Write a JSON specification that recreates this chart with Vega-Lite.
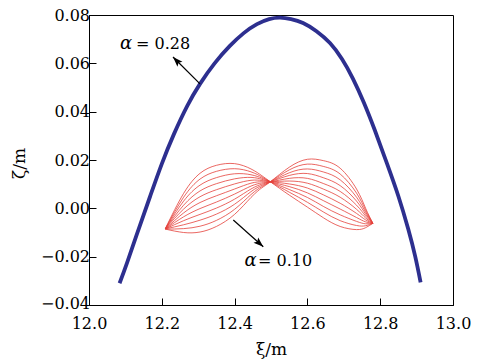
{
  "$schema": "https://vega.github.io/schema/vega-lite/v6.json",
  "width": 364,
  "height": 290,
  "autosize": {"type": "none"},
  "padding": {"left": 89, "top": 15, "right": 33, "bottom": 55},
  "background": "white",
  "config": {
    "view": {"stroke": "black", "strokeWidth": 1},
    "axis": {
      "grid": false,
      "domainColor": "black",
      "tickColor": "black",
      "labelColor": "black",
      "titleColor": "black",
      "labelFont": "DejaVu Serif",
      "titleFont": "DejaVu Serif",
      "labelFontSize": 16,
      "titleFontSize": 17,
      "titleFontWeight": "normal",
      "tickSize": -7,
      "labelFlush": false,
      "labelOverlap": false
    },
    "axisX": {"labelPadding": 17.5},
    "axisY": {"labelPadding": 6.5}
  },
  "datasets": {
    "red": [
      {"c":0,"x":12.21,"y":-0.0083},{"c":0,"x":12.26,"y":0.0062},{"c":0,"x":12.305,"y":0.0145},{"c":0,"x":12.35,"y":0.0178},{"c":0,"x":12.40,"y":0.0185},{"c":0,"x":12.445,"y":0.0163},{"c":0,"x":12.475,"y":0.0135},{"c":0,"x":12.50,"y":0.0108},{"c":0,"x":12.55,"y":0.0055},{"c":0,"x":12.60,"y":0.0005},{"c":0,"x":12.645,"y":-0.0040},{"c":0,"x":12.69,"y":-0.0075},{"c":0,"x":12.735,"y":-0.0088},{"c":0,"x":12.76,"y":-0.0080},{"c":0,"x":12.78,"y":-0.0062},
      {"c":1,"x":12.21,"y":-0.0083},{"c":1,"x":12.26,"y":0.0046},{"c":1,"x":12.305,"y":0.0121},{"c":1,"x":12.35,"y":0.0153},{"c":1,"x":12.40,"y":0.0164},{"c":1,"x":12.445,"y":0.0151},{"c":1,"x":12.475,"y":0.0130},{"c":1,"x":12.50,"y":0.0108},{"c":1,"x":12.55,"y":0.0067},{"c":1,"x":12.60,"y":0.0025},{"c":1,"x":12.645,"y":-0.0016},{"c":1,"x":12.69,"y":-0.0051},{"c":1,"x":12.735,"y":-0.0071},{"c":1,"x":12.76,"y":-0.0072},{"c":1,"x":12.78,"y":-0.0062},
      {"c":2,"x":12.21,"y":-0.0084},{"c":2,"x":12.26,"y":0.0030},{"c":2,"x":12.305,"y":0.0096},{"c":2,"x":12.35,"y":0.0127},{"c":2,"x":12.40,"y":0.0143},{"c":2,"x":12.445,"y":0.0139},{"c":2,"x":12.475,"y":0.0125},{"c":2,"x":12.50,"y":0.0109},{"c":2,"x":12.55,"y":0.0078},{"c":2,"x":12.60,"y":0.0045},{"c":2,"x":12.645,"y":0.0007},{"c":2,"x":12.69,"y":-0.0027},{"c":2,"x":12.735,"y":-0.0054},{"c":2,"x":12.76,"y":-0.0064},{"c":2,"x":12.78,"y":-0.0062},
      {"c":3,"x":12.21,"y":-0.0084},{"c":3,"x":12.26,"y":0.0013},{"c":3,"x":12.305,"y":0.0072},{"c":3,"x":12.35,"y":0.0102},{"c":3,"x":12.40,"y":0.0122},{"c":3,"x":12.445,"y":0.0128},{"c":3,"x":12.475,"y":0.0120},{"c":3,"x":12.50,"y":0.0109},{"c":3,"x":12.55,"y":0.0090},{"c":3,"x":12.60,"y":0.0064},{"c":3,"x":12.645,"y":0.0031},{"c":3,"x":12.69,"y":-0.0003},{"c":3,"x":12.735,"y":-0.0038},{"c":3,"x":12.76,"y":-0.0056},{"c":3,"x":12.78,"y":-0.0062},
      {"c":4,"x":12.21,"y":-0.0084},{"c":4,"x":12.26,"y":-0.0003},{"c":4,"x":12.305,"y":0.0048},{"c":4,"x":12.35,"y":0.0077},{"c":4,"x":12.40,"y":0.0101},{"c":4,"x":12.445,"y":0.0116},{"c":4,"x":12.475,"y":0.0115},{"c":4,"x":12.50,"y":0.0110},{"c":4,"x":12.55,"y":0.0101},{"c":4,"x":12.60,"y":0.0084},{"c":4,"x":12.645,"y":0.0055},{"c":4,"x":12.69,"y":0.0021},{"c":4,"x":12.735,"y":-0.0021},{"c":4,"x":12.76,"y":-0.0048},{"c":4,"x":12.78,"y":-0.0062},
      {"c":5,"x":12.21,"y":-0.0085},{"c":5,"x":12.26,"y":-0.0019},{"c":5,"x":12.305,"y":0.0024},{"c":5,"x":12.35,"y":0.0052},{"c":5,"x":12.40,"y":0.0080},{"c":5,"x":12.445,"y":0.0104},{"c":5,"x":12.475,"y":0.0110},{"c":5,"x":12.50,"y":0.0110},{"c":5,"x":12.55,"y":0.0113},{"c":5,"x":12.60,"y":0.0104},{"c":5,"x":12.645,"y":0.0079},{"c":5,"x":12.69,"y":0.0046},{"c":5,"x":12.735,"y":-0.0004},{"c":5,"x":12.76,"y":-0.0040},{"c":5,"x":12.78,"y":-0.0062},
      {"c":6,"x":12.21,"y":-0.0085},{"c":6,"x":12.26,"y":-0.0035},{"c":6,"x":12.305,"y":-0.0001},{"c":6,"x":12.35,"y":0.0026},{"c":6,"x":12.40,"y":0.0059},{"c":6,"x":12.445,"y":0.0092},{"c":6,"x":12.475,"y":0.0105},{"c":6,"x":12.50,"y":0.0110},{"c":6,"x":12.55,"y":0.0124},{"c":6,"x":12.60,"y":0.0124},{"c":6,"x":12.645,"y":0.0102},{"c":6,"x":12.69,"y":0.0070},{"c":6,"x":12.735,"y":0.0013},{"c":6,"x":12.76,"y":-0.0032},{"c":6,"x":12.78,"y":-0.0062},
      {"c":7,"x":12.21,"y":-0.0085},{"c":7,"x":12.26,"y":-0.0051},{"c":7,"x":12.305,"y":-0.0025},{"c":7,"x":12.35,"y":0.0001},{"c":7,"x":12.40,"y":0.0038},{"c":7,"x":12.445,"y":0.0080},{"c":7,"x":12.475,"y":0.0100},{"c":7,"x":12.50,"y":0.0111},{"c":7,"x":12.55,"y":0.0136},{"c":7,"x":12.60,"y":0.0144},{"c":7,"x":12.645,"y":0.0126},{"c":7,"x":12.69,"y":0.0094},{"c":7,"x":12.735,"y":0.0030},{"c":7,"x":12.76,"y":-0.0024},{"c":7,"x":12.78,"y":-0.0062},
      {"c":8,"x":12.21,"y":-0.0085},{"c":8,"x":12.26,"y":-0.0068},{"c":8,"x":12.305,"y":-0.0049},{"c":8,"x":12.35,"y":-0.0024},{"c":8,"x":12.40,"y":0.0017},{"c":8,"x":12.445,"y":0.0069},{"c":8,"x":12.475,"y":0.0095},{"c":8,"x":12.50,"y":0.0111},{"c":8,"x":12.55,"y":0.0147},{"c":8,"x":12.60,"y":0.0163},{"c":8,"x":12.645,"y":0.0150},{"c":8,"x":12.69,"y":0.0118},{"c":8,"x":12.735,"y":0.0046},{"c":8,"x":12.76,"y":-0.0016},{"c":8,"x":12.78,"y":-0.0062},
      {"c":9,"x":12.21,"y":-0.0086},{"c":9,"x":12.26,"y":-0.0084},{"c":9,"x":12.305,"y":-0.0074},{"c":9,"x":12.35,"y":-0.0050},{"c":9,"x":12.40,"y":-0.0004},{"c":9,"x":12.445,"y":0.0057},{"c":9,"x":12.475,"y":0.0090},{"c":9,"x":12.50,"y":0.0112},{"c":9,"x":12.55,"y":0.0159},{"c":9,"x":12.60,"y":0.0183},{"c":9,"x":12.645,"y":0.0173},{"c":9,"x":12.69,"y":0.0142},{"c":9,"x":12.735,"y":0.0063},{"c":9,"x":12.76,"y":-0.0008},{"c":9,"x":12.78,"y":-0.0062},
      {"c":10,"x":12.21,"y":-0.0086},{"c":10,"x":12.26,"y":-0.0100},{"c":10,"x":12.305,"y":-0.0098},{"c":10,"x":12.35,"y":-0.0075},{"c":10,"x":12.40,"y":-0.0025},{"c":10,"x":12.445,"y":0.0045},{"c":10,"x":12.475,"y":0.0085},{"c":10,"x":12.50,"y":0.0112},{"c":10,"x":12.55,"y":0.0170},{"c":10,"x":12.60,"y":0.0203},{"c":10,"x":12.645,"y":0.0197},{"c":10,"x":12.69,"y":0.0166},{"c":10,"x":12.735,"y":0.0080},{"c":10,"x":12.76,"y":0.0000},{"c":10,"x":12.78,"y":-0.0062}
    ],
    "blue": [
      {"x":12.084,"y":-0.0310},{"x":12.104,"y":-0.0228},{"x":12.135,"y":-0.0092},{"x":12.168,"y":0.0050},{"x":12.200,"y":0.0184},{"x":12.233,"y":0.0306},{"x":12.270,"y":0.0424},{"x":12.305,"y":0.0515},{"x":12.345,"y":0.0600},{"x":12.387,"y":0.0672},{"x":12.425,"y":0.0725},{"x":12.4615,"y":0.0762},{"x":12.495,"y":0.0783},{"x":12.525,"y":0.0789},{"x":12.555,"y":0.0783},{"x":12.588,"y":0.0767},{"x":12.625,"y":0.0733},{"x":12.662,"y":0.0684},{"x":12.695,"y":0.0618},{"x":12.725,"y":0.0537},{"x":12.755,"y":0.0438},{"x":12.785,"y":0.0324},{"x":12.818,"y":0.0188},{"x":12.850,"y":0.0050},{"x":12.877,"y":-0.0086},{"x":12.896,"y":-0.0198},{"x":12.911,"y":-0.0306}
    ],
    "arrows": [
      {"a":"a1","x":12.305,"y":0.0515},{"a":"a1","x":12.2308,"y":0.0626},
      {"a":"a2","x":12.3964,"y":-0.0048},{"a":"a2","x":12.4788,"y":-0.0159}
    ],
    "head1": [{"x":12.2308,"y":0.0626}],
    "head2": [{"x":12.4788,"y":-0.0159}],
    "alphas": [{"x":12.1016,"y":0.068,"t":"α"},{"x":12.4437,"y":-0.0218,"t":"α"}],
    "vals": [{"x":12.129,"y":0.068,"t":"= 0.28"},{"x":12.4643,"y":-0.0218,"t":"= 0.10"}]
  },
  "encoding": {
    "x": {"field": "x", "type": "quantitative", "scale": {"domain": [12, 13], "nice": false, "zero": false},
      "axis": {"values": [12, 12.2, 12.4, 12.6, 12.8, 13], "format": ".1f", "title": "ξ/m", "titleX": 182, "titleY": 49, "titleBaseline": "alphabetic"}},
    "y": {"field": "y", "type": "quantitative", "scale": {"domain": [-0.04, 0.08], "nice": false, "zero": false},
      "axis": {"values": [-0.04, -0.02, 0, 0.02, 0.04, 0.06, 0.08], "format": ".2f", "title": "ζ/m", "titleX": -70, "titleY": 148, "titleAngle": -90, "titleAlign": "center", "titleBaseline": "middle",
        "labelOffset": {"condition": {"test": "datum.value < -0.039", "value": -2}, "value": 0}}}
  },
  "layer": [
    {"data": {"name": "red"}, "mark": {"type": "line", "color": "#e5403a", "strokeWidth": 0.8, "interpolate": "natural"},
      "encoding": {"detail": {"field": "c", "type": "nominal"}}},
    {"data": {"name": "blue"}, "mark": {"type": "line", "color": "#2d2f8f", "strokeWidth": 3.8, "interpolate": "natural"}},
    {"data": {"name": "arrows"}, "mark": {"type": "line", "color": "black", "strokeWidth": 1.2},
      "encoding": {"detail": {"field": "a", "type": "nominal"}}},
    {"data": {"name": "head1"}, "mark": {"type": "point", "shape": "M0,0 L0.7,2 L0,1.6 L-0.7,2 Z", "size": 100, "filled": true, "color": "black", "opacity": 1, "angle": 316}},
    {"data": {"name": "head2"}, "mark": {"type": "point", "shape": "M0,0 L0.7,2 L0,1.6 L-0.7,2 Z", "size": 100, "filled": true, "color": "black", "opacity": 1, "angle": 132}},
    {"data": {"name": "alphas"}, "mark": {"type": "text", "font": "DejaVu Serif", "fontStyle": "italic", "fontSize": 18, "align": "center", "baseline": "middle", "color": "black"},
      "encoding": {"text": {"field": "t"}}},
    {"data": {"name": "vals"}, "mark": {"type": "text", "font": "DejaVu Serif", "fontSize": 16, "align": "left", "baseline": "middle", "color": "black"},
      "encoding": {"text": {"field": "t"}}}
  ]
}
